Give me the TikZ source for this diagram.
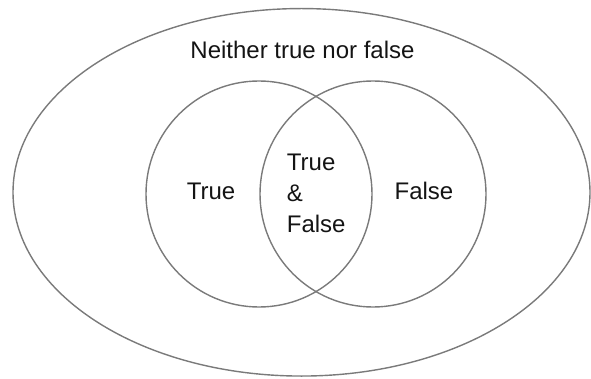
\documentclass[tikz,border=0pt]{standalone}
\usepackage{fontspec}
\setmainfont{Liberation Sans}
\usetikzlibrary{shapes.geometric}
\begin{document}
\begin{tikzpicture}[x=1pt,y=-1pt,
  setline/.style={draw=black!52, line width=1.4pt},
  lbl/.style={font=\fontsize{24}{31}\selectfont, text=black!92, inner sep=0pt}]
\useasboundingbox (0,0) rectangle (591,379);
\node[setline, ellipse, minimum width=577pt, minimum height=367.5pt, inner sep=0pt] (outer) at (301.5,192.3) {};
\node[setline, circle, minimum size=226pt, inner sep=0pt] (T) at (259,194) {};
\node[setline, circle, minimum size=226pt, inner sep=0pt] (F) at (373,194) {};
\node[lbl, anchor=base] (neither) at (302.5,59) {Neither true nor false};
\node[lbl, anchor=base] (tl) at (211,200) {True};
\node[lbl, anchor=base] (fl) at (424,200) {False};
\node[lbl, anchor=base west, align=left] (tf) at (286.7,233) {True\\\&\\False};
\end{tikzpicture}
\end{document}
